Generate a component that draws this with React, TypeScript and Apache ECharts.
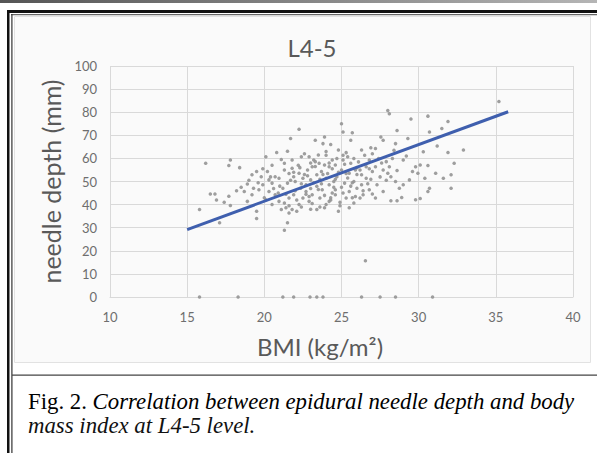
import React, { useEffect, useRef } from "react";
import * as echarts from "echarts";

// BMI (kg/m²) values of the measured patients
const bmi: number[] = [
  35.2, 28.0, 28.1, 29.5, 30.6, 31.9, 31.5, 30.7, 28.6, 29.3, 27.55, 27.7, 22.25, 25.0, 25.1, 25.7,
  23.9, 23.3, 21.7, 25.6, 23.8, 24.3, 31.2, 32.9, 31.9, 30.3, 28.5, 26.9, 27.2, 26.3, 24.8, 21.5,
  20.8, 20.1, 16.2, 17.8, 17.7, 18.4, 21.3, 21.8, 22.4, 22.9, 23.2, 23.55, 23.9, 24.4, 24.7, 25.1,
  25.4, 25.8, 26.5, 26.8, 27.4, 27.9, 28.1, 29.0, 29.8, 30.1, 30.6, 32.3, 29.6, 32.1, 31.6, 32.1,
  30.7, 30.6, 30.1, 29.8, 28.9, 28.6, 28.2, 29.0, 28.5, 28.2, 27.7, 27.3, 26.8, 27.0, 26.4, 26.0,
  25.8, 25.5, 25.9, 26.3, 26.6, 27.0, 27.2, 27.7, 28.0, 25.8, 25.5, 24.8, 25.3, 24.6, 24.2, 23.9,
  23.4, 23.6, 23.1, 22.9, 22.5, 22.25, 22.1, 21.8, 21.6, 21.4, 21.1, 21.3, 21.6, 21.9, 21.5, 21.3,
  19.5, 19.5, 17.1, 15.8, 16.5, 16.8, 17.7, 17.8, 18.7, 18.9, 19.2, 19.65, 19.9, 19.2, 19.5, 19.8,
  20.2, 20.3, 20.5, 20.7, 20.95, 20.3, 20.7, 21.2, 21.5, 21.9, 22.25, 22.5, 22.7, 23.0, 23.4, 23.7,
  24.0, 24.2, 24.5, 24.7, 25.0, 25.2, 24.6, 23.75, 23.4, 22.7, 22.35, 23.1, 22.8, 24.2, 24.6, 21.8,
  21.3, 23.3, 24.0, 25.1, 25.6, 26.6, 20.1, 20.5, 20.95, 18.9, 19.3, 26.3, 25.5, 25.1, 26.2, 27.2,
  28.75, 29.4, 29.95, 31.1, 30.4, 26.55,
  22.0, 22.6, 23.2, 23.6, 24.1, 24.4, 24.8, 23.0, 22.2, 21.6, 21.0, 20.6, 22.0, 23.9, 24.3, 25.0,
  25.4, 26.0, 26.8, 27.5, 26.1, 25.3, 24.0, 23.5, 22.6, 21.1, 20.5, 19.9, 19.0, 18.5, 20.0, 21.4,
  22.4, 23.0, 24.0, 25.9, 26.7, 27.9, 28.6, 29.2, 28.4, 27.0,
  21.9, 22.3, 22.8, 23.3, 23.7, 24.2, 24.6, 25.2, 25.7, 26.2, 22.1, 22.7, 23.1, 23.5, 24.4, 24.9,
  25.6, 26.4, 21.7, 22.4, 23.0, 23.8, 24.5, 25.3, 26.0, 20.9, 21.6, 22.9, 23.6, 24.3, 24.9, 25.7,
  26.9, 27.6, 28.3, 20.4, 19.6, 18.2, 17.4, 16.9,
  15.8, 18.3, 21.2, 21.9, 22.96, 23.4, 23.8, 27.5, 28.5, 30.9, 26.3
];

// needle depth (mm) of the same patients, in the same order
const depth: number[] = [
  84.6, 80.7, 79.3, 77.1, 78.3, 76.0, 72.9, 71.4, 72.1, 68.6, 69.3, 67.9, 72.6, 75.0, 71.4, 71.1,
  69.3, 67.9, 68.6, 67.9, 66.4, 66.0, 65.4, 63.6, 62.6, 62.9, 66.4, 64.6, 64.3, 63.6, 63.6, 63.1,
  62.6, 60.7, 57.9, 59.3, 56.9, 56.0, 57.9, 59.3, 60.7, 60.7, 59.3, 57.9, 57.1, 59.3, 60.0, 59.3,
  60.7, 60.0, 61.4, 59.3, 60.0, 58.6, 56.4, 59.3, 56.4, 57.1, 56.9, 57.9, 54.3, 52.9, 51.4, 47.1,
  47.1, 45.7, 42.6, 42.1, 43.1, 41.7, 41.7, 48.6, 50.0, 52.1, 45.7, 48.6, 46.4, 44.6, 44.3, 47.1,
  50.0, 53.6, 55.0, 52.9, 51.4, 54.3, 56.4, 55.0, 53.6, 40.7, 38.6, 37.1, 42.9, 44.3, 41.4, 38.6,
  37.9, 42.9, 44.3, 41.4, 42.9, 40.0, 37.1, 37.9, 36.4, 38.6, 37.9, 40.7, 42.9, 44.3, 32.1, 28.9,
  37.1, 34.0, 32.1, 37.9, 44.6, 44.6, 43.6, 39.6, 45.7, 41.4, 44.3, 46.4, 48.6, 52.9, 54.3, 52.1,
  54.3, 50.7, 49.3, 52.1, 51.4, 45.7, 44.3, 47.1, 49.3, 52.1, 53.6, 51.4, 48.6, 50.7, 52.9, 54.3,
  51.4, 48.6, 50.0, 52.1, 55.0, 49.3, 46.4, 46.4, 47.9, 45.7, 47.1, 56.4, 55.0, 56.4, 57.1, 55.7,
  55.0, 58.6, 61.4, 61.4, 57.9, 56.4, 42.1, 40.0, 41.4, 48.9, 47.1, 48.6, 45.7, 45.0, 42.9, 42.9,
  47.1, 50.7, 53.6, 53.6, 51.4, 15.7,
  50.0, 53.0, 49.5, 51.0, 53.5, 55.5, 54.0, 58.0, 57.0, 53.5, 48.0, 47.0, 46.0, 44.0, 43.0, 47.5,
  51.5, 53.0, 55.5, 52.0, 58.5, 62.5, 63.0, 61.5, 62.0, 59.5, 57.0, 55.5, 50.5, 47.5, 43.0, 44.5,
  39.0, 38.0, 40.0, 43.5, 49.0, 50.5, 54.8, 61.0, 63.5, 62.0,
  54.0, 56.0, 52.5, 56.5, 49.0, 58.0, 51.0, 57.5, 49.5, 55.0, 42.0, 44.5, 40.5, 46.5, 45.0, 41.0,
  48.0, 46.0, 50.5, 49.0, 47.0, 53.0, 47.5, 53.5, 56.0, 45.0, 39.5, 43.5, 39.0, 42.0, 39.5, 43.0,
  51.0, 58.0, 60.0, 52.0, 49.5, 46.0, 41.0, 42.0,
  0, 0, 0, 0, 0, 0, 0, 0, 0, 0, 0
];

// linear trend line end points
const trendX: number[] = [15.0, 35.8];
const trendY: number[] = [29.2, 80.2];

const xTicks = { min: 10, max: 40, interval: 5 };
const yTicks = { min: 0, max: 100, interval: 10 };

const titleText = "L4-5";
const xName = "BMI (kg/m²)";
const yName = "needle depth (mm)";
const captionLabel = "Fig. 2. ";
const captionLine1 = "Correlation between epidural needle depth and body";
const captionLine2 = "mass index at L4-5 level.";

export default function App() {
  const ref = useRef<HTMLDivElement>(null);
  useEffect(() => {
    if (!ref.current) return;
    const chart = echarts.init(ref.current, undefined, { renderer: "svg" });
    const points = bmi.map((x, i) => [x, depth[i]]);
    const trend = trendX.map((x, i) => [x, trendY[i]]);
    const font = "Lato, 'Open Sans', sans-serif";
    const serif = "'Liberation Serif', serif";
    chart.setOption({
      animation: false,
      backgroundColor: "#ffffff",
      title: {
        text: titleText,
        left: 307,
        top: 30,
        textAlign: "center",
        textStyle: { fontFamily: font, fontSize: 24, fontWeight: "normal", color: "#595959" },
      },
      grid: { left: 110, right: 24, top: 66, bottom: 156 },
      xAxis: {
        type: "value",
        min: xTicks.min,
        max: xTicks.max,
        interval: xTicks.interval,
        name: xName,
        nameLocation: "middle",
        nameGap: 37,
        nameTextStyle: { fontFamily: font, fontSize: 24, color: "#595959", padding: [0, 43, 0, 0] },
        axisLine: { show: true, lineStyle: { color: "#d9d9d9", width: 1 } },
        axisTick: { show: false },
        axisLabel: { margin: 13, fontFamily: font, fontSize: 13, color: "#6e6e6e" },
        splitLine: { show: true, lineStyle: { color: "#d9d9d9", width: 1 } },
      },
      yAxis: {
        type: "value",
        min: yTicks.min,
        max: yTicks.max,
        interval: yTicks.interval,
        name: yName,
        nameLocation: "middle",
        nameGap: 44,
        nameRotate: 90,
        nameTextStyle: { fontFamily: font, fontSize: 25, color: "#595959" },
        axisLine: { show: false },
        axisTick: { show: false },
        axisLabel: { margin: 13, fontFamily: font, fontSize: 13, color: "#6e6e6e" },
        splitLine: { show: true, lineStyle: { color: "#d9d9d9", width: 1 } },
      },
      series: [
        {
          type: "scatter",
          data: points,
          symbol: "circle",
          symbolSize: 3.5,
          itemStyle: { color: "#939393", opacity: 0.9 },
          z: 2,
        },
        {
          type: "line",
          data: trend,
          showSymbol: false,
          symbol: "none",
          lineStyle: { color: "#3f5fae", width: 3 },
          z: 3,
        },
      ],
      graphic: [
        {
          type: "rect",
          z: -100,
          shape: { x: 14.5, y: 16.5, width: 576, height: 346 },
          style: { fill: "#fafafa", stroke: "#e2e2e2", lineWidth: 1 },
        },
        {
          type: "rect",
          shape: { x: 0, y: 0, width: 597, height: 3 },
          style: {
            fill: new echarts.graphic.LinearGradient(0, 0, 1, 0, [
              { offset: 0, color: "#555555" },
              { offset: 1, color: "#b5b5b5" },
            ]),
          },
        },
        { type: "rect", shape: { x: 7, y: 10, width: 590, height: 3 }, style: { fill: "#111111" } },
        { type: "rect", shape: { x: 11, y: 14, width: 586, height: 1.2 }, style: { fill: "#666666" } },
        { type: "rect", shape: { x: 7, y: 10, width: 2.5, height: 443 }, style: { fill: "#111111" } },
        { type: "rect", shape: { x: 11.3, y: 14, width: 1.2, height: 439 }, style: { fill: "#333333" } },
        { type: "rect", shape: { x: 12, y: 374.5, width: 585, height: 1.3 }, style: { fill: "#444444" } },
        {
          type: "text",
          x: 28,
          y: 401,
          style: {
            text: "{a|" + captionLabel + "}{b|" + captionLine1 + "}",
            verticalAlign: "middle",
            rich: {
              a: { fontFamily: serif, fontSize: 22.8, color: "#111111" },
              b: { fontFamily: serif, fontSize: 22.8, fontStyle: "italic", color: "#111111" },
            },
          },
        },
        {
          type: "text",
          x: 28,
          y: 425,
          style: {
            text: captionLine2,
            verticalAlign: "middle",
            fontFamily: serif,
            fontSize: 22.8,
            fontStyle: "italic",
            fill: "#111111",
          },
        },
      ],
    });
    return () => chart.dispose();
  }, []);
  return (
    <div
      ref={ref}
      style={{ position: "absolute", left: 0, top: 0, width: 597, height: 453 }}
    />
  );
}
